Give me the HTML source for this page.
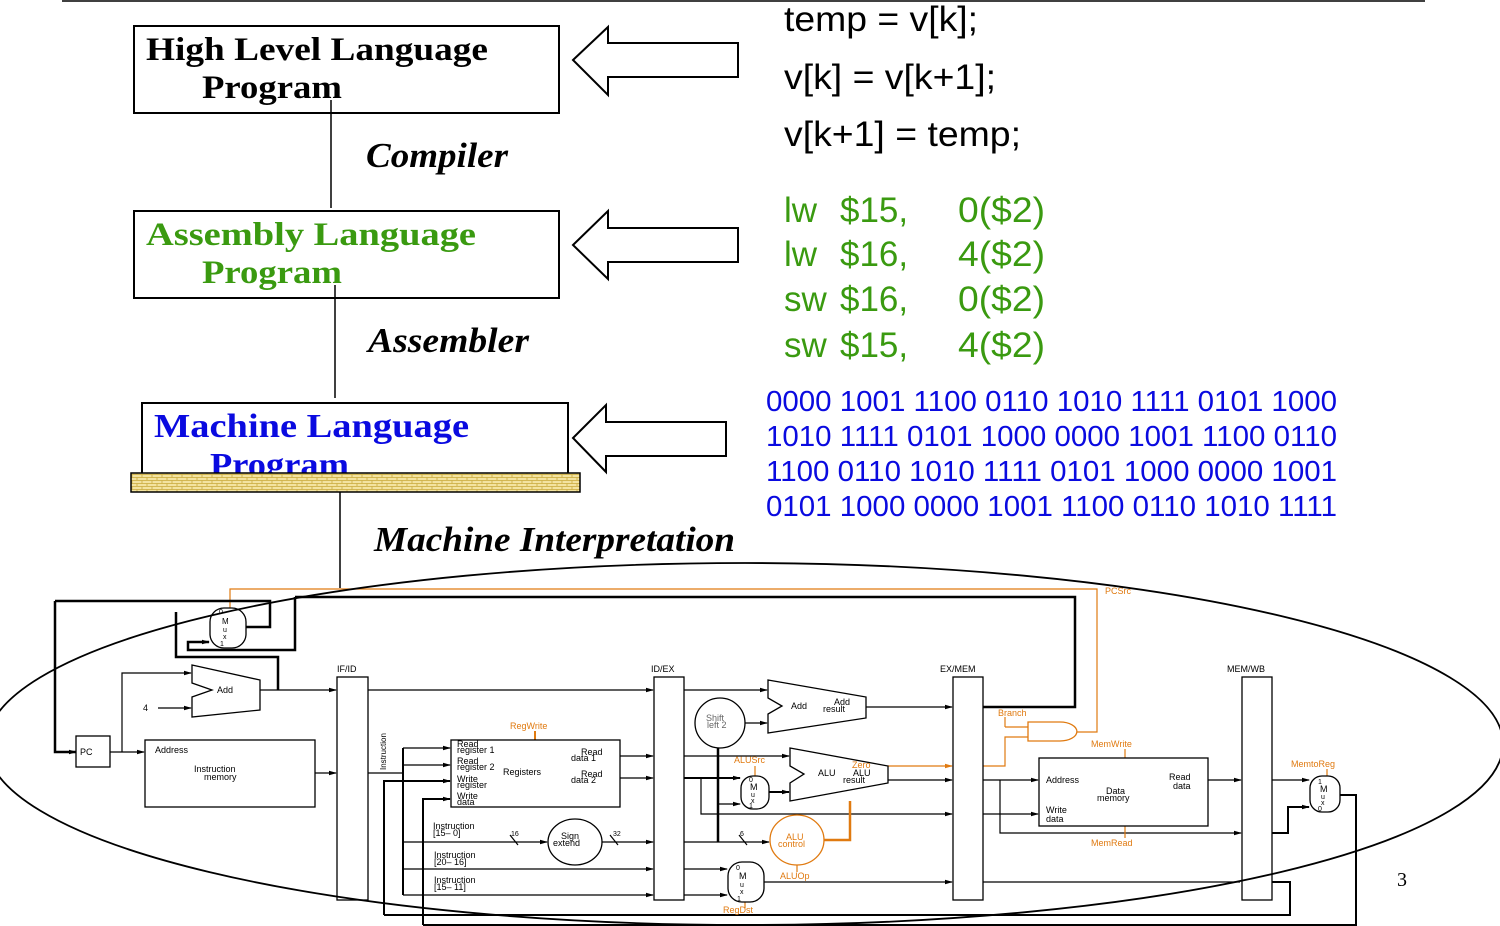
<!DOCTYPE html>
<html><head><meta charset="utf-8"><style>
html,body{margin:0;padding:0;background:#fff;width:1500px;height:926px;overflow:hidden}
svg{display:block}
.s{font-family:"Liberation Serif",serif;font-weight:bold}
.a{font-family:"Liberation Sans",sans-serif}
.d{font-family:"Liberation Sans",sans-serif;font-size:9px}
.o{fill:#e07a10}
</style></head><body>
<svg width="1500" height="926" viewBox="0 0 1500 926" xmlns="http://www.w3.org/2000/svg">
<defs>
<pattern id="br" width="10" height="6" patternUnits="userSpaceOnUse">
<rect width="10" height="6" fill="#f3e3a0"/>
<path d="M0 0.5H10M0 3.5H10M2 0.5V3.5M7 3.5V6" stroke="#c9a93a" stroke-width="0.8" fill="none"/>
</pattern>
<marker id="ar" markerUnits="userSpaceOnUse" markerWidth="8" markerHeight="6" refX="7" refY="3" orient="auto"><path d="M0,0.8 L8,3 L0,5.2z" fill="#000"/></marker>
<marker id="ao" markerUnits="userSpaceOnUse" markerWidth="8" markerHeight="6" refX="7" refY="3" orient="auto"><path d="M0,0.8 L8,3 L0,5.2z" fill="#e07a10"/></marker>
</defs>
<line x1="62" y1="1" x2="1425" y2="1" stroke="#000" stroke-width="1.5"/>

<rect x="134" y="26" width="425" height="87" fill="#fff" stroke="#000" stroke-width="2"/>
<text class="s" x="146" y="60" font-size="33" textLength="342" lengthAdjust="spacingAndGlyphs">High Level Language</text>
<text class="s" x="202" y="98" font-size="33" textLength="140" lengthAdjust="spacingAndGlyphs">Program</text>
<path d="M573 60 L608 27 L608 43 L738 43 L738 77 L608 77 L608 95 Z" fill="#fff" stroke="#000" stroke-width="2"/>
<line x1="331" y1="100" x2="331" y2="208" stroke="#000" stroke-width="1.5"/>
<text class="s" x="366" y="167" font-size="35" font-style="italic" textLength="142" lengthAdjust="spacingAndGlyphs">Compiler</text>

<rect x="134" y="211" width="425" height="87" fill="#fff" stroke="#000" stroke-width="2"/>
<text class="s" x="146" y="245" font-size="33" fill="#3a9a10" textLength="330" lengthAdjust="spacingAndGlyphs">Assembly  Language</text>
<text class="s" x="202" y="283" font-size="33" fill="#3a9a10" textLength="140" lengthAdjust="spacingAndGlyphs">Program</text>
<path d="M573 245 L608 211 L608 228 L738 228 L738 262 L608 262 L608 279 Z" fill="#fff" stroke="#000" stroke-width="2"/>
<line x1="335" y1="285" x2="335" y2="398" stroke="#000" stroke-width="1.5"/>
<text class="s" x="368" y="352" font-size="35" font-style="italic" textLength="161" lengthAdjust="spacingAndGlyphs">Assembler</text>

<rect x="142" y="403" width="426" height="72" fill="#fff" stroke="#000" stroke-width="2"/>
<text class="s" x="154" y="437" font-size="34" fill="#0a0ae0" textLength="315" lengthAdjust="spacingAndGlyphs">Machine  Language</text>
<text class="s" x="210" y="476" font-size="34" fill="#0a0ae0" textLength="139" lengthAdjust="spacingAndGlyphs">Program</text>
<rect x="131" y="473" width="449" height="19" fill="url(#br)" stroke="#000" stroke-width="1.5"/>
<path d="M573 438 L606 405 L606 422 L726 422 L726 456 L606 456 L606 472 Z" fill="#fff" stroke="#000" stroke-width="2"/>
<line x1="340" y1="492" x2="340" y2="588" stroke="#000" stroke-width="1.5"/>
<text class="s" x="374" y="551" font-size="35" font-style="italic" textLength="361" lengthAdjust="spacingAndGlyphs">Machine Interpretation</text>

<g class="a" font-size="35">
<text x="784" y="31" textLength="194" lengthAdjust="spacingAndGlyphs">temp = v[k];</text>
<text x="784" y="89" textLength="212" lengthAdjust="spacingAndGlyphs">v[k] = v[k+1];</text>
<text x="784" y="146" textLength="237" lengthAdjust="spacingAndGlyphs">v[k+1] = temp;</text>
<g fill="#3a9a10">
<text x="784" y="222">lw</text><text x="840" y="222">$15,</text><text x="958" y="222" textLength="87" lengthAdjust="spacingAndGlyphs">0($2)</text>
<text x="784" y="266">lw</text><text x="840" y="266">$16,</text><text x="958" y="266" textLength="87" lengthAdjust="spacingAndGlyphs">4($2)</text>
<text x="784" y="311">sw</text><text x="840" y="311">$16,</text><text x="958" y="311" textLength="87" lengthAdjust="spacingAndGlyphs">0($2)</text>
<text x="784" y="357">sw</text><text x="840" y="357">$15,</text><text x="958" y="357" textLength="87" lengthAdjust="spacingAndGlyphs">4($2)</text>
</g>
</g>
<g class="a" font-size="28.5" fill="#0a0ae0">
<text x="766" y="411" textLength="571" lengthAdjust="spacingAndGlyphs">0000 1001 1100 0110 1010 1111 0101 1000</text>
<text x="766" y="446" textLength="571" lengthAdjust="spacingAndGlyphs">1010 1111 0101 1000 0000 1001 1100 0110</text>
<text x="766" y="481" textLength="571" lengthAdjust="spacingAndGlyphs">1100 0110 1010 1111 0101 1000 0000 1001</text>
<text x="766" y="516" textLength="571" lengthAdjust="spacingAndGlyphs">0101 1000 0000 1001 1100 0110 1010 1111</text>
</g>

<g fill="none" stroke="#000" stroke-width="1.2">
<path d="M230 608 V589 H1097 V732 H1076" stroke="#e07a10"/>
<path d="M55 601 H270 V627 H246" stroke-width="2.5"/>
<path d="M55 601 V752 H76" stroke-width="2.5" marker-end="url(#ar)"/>
<path d="M295 597 H1075 V707 H983" stroke-width="2.5"/>
<path d="M295 597 V650 H188 V642 H209" stroke-width="2.5" marker-end="url(#ar)"/>
<path d="M176 612 V657 H278 V690" stroke-width="2.5"/>
<path d="M110 752 H144" marker-end="url(#ar)"/>
<path d="M122 752 V673 H191" marker-end="url(#ar)"/>
<path d="M158 708 H191" marker-end="url(#ar)"/>
<path d="M260 690 H336" marker-end="url(#ar)"/>
<path d="M368 690 H653" marker-end="url(#ar)"/>
<path d="M315 773 H336" marker-end="url(#ar)"/>
<path d="M368 773 H403"/>
<path d="M403 748 V895" stroke-width="2"/>
<path d="M403 748 H450" marker-end="url(#ar)"/>
<path d="M403 765 H450" marker-end="url(#ar)"/>
<path d="M403 842 H547" marker-end="url(#ar)"/>
<path d="M602 842 H653" marker-end="url(#ar)"/>
<path d="M403 869 H653" marker-end="url(#ar)"/>
<path d="M403 895 H653" marker-end="url(#ar)"/>
<path d="M384 915 V781 H450" stroke-width="2" marker-end="url(#ar)"/>
<path d="M423 925 V799 H450" stroke-width="2" marker-end="url(#ar)"/>
<path d="M620 756 H653" marker-end="url(#ar)"/>
<path d="M620 778 H653" marker-end="url(#ar)"/>
<path d="M684 690 H767" marker-end="url(#ar)"/>
<path d="M745 723 H767" marker-end="url(#ar)"/>
<path d="M866 707 H952" marker-end="url(#ar)"/>
<path d="M684 756 H789" marker-end="url(#ar)"/>
<path d="M684 778 H740" stroke-width="2" marker-end="url(#ar)"/>
<path d="M769 792 H789" stroke-width="2" marker-end="url(#ar)"/>
<path d="M701 778 V814 H952" marker-end="url(#ar)"/>
<path d="M718 747 V842" stroke-width="2.5"/>
<path d="M718 804 H740" marker-end="url(#ar)"/>
<path d="M684 842 H769" marker-end="url(#ar)"/>
<path d="M888 780 H952" marker-end="url(#ar)"/>
<path d="M888 766 H952" stroke="#e07a10" marker-end="url(#ao)"/>
<path d="M824 840 H850 V801" stroke="#e07a10" stroke-width="2.5"/>
<path d="M684 869 H727" marker-end="url(#ar)"/>
<path d="M684 895 H727" marker-end="url(#ar)"/>
<path d="M764 882 H952" marker-end="url(#ar)"/>
<path d="M983 766 H1005 V737 H1028" stroke="#e07a10"/>
<path d="M1005 727 V717" stroke="#e07a10"/>
<path d="M1005 727 H1028" stroke="#e07a10"/>
<path d="M983 780 H1038" marker-end="url(#ar)"/>
<path d="M1000 780 V833 H1241" marker-end="url(#ar)"/>
<path d="M983 814 H1038" marker-end="url(#ar)"/>
<path d="M1208 780 H1241" marker-end="url(#ar)"/>
<path d="M983 882 H1240"/>
<path d="M1272 780 H1309" marker-end="url(#ar)"/>
<path d="M1272 833 H1288 V807 H1309" stroke-width="2" marker-end="url(#ar)"/>
<path d="M1340 795 H1356 V925 H423" stroke-width="2"/>
<path d="M1272 882 H1290 V915 H384" stroke-width="2"/>
<path d="M535 731 V740" stroke="#e07a10" stroke-width="2"/>
<path d="M755 766 V776" stroke="#e07a10"/>
<path d="M797 865 V872" stroke="#e07a10"/>
<path d="M745 902 V908" stroke="#e07a10"/>
<path d="M1125 749 V758" stroke="#e07a10"/>
<path d="M1125 826 V838" stroke="#e07a10"/>
<path d="M1327 769 V776" stroke="#e07a10"/>
<path d="M510 835 L518 845 M610 835 L618 845 M739 835 L747 845"/>
</g>
<g fill="#fff" stroke="#000" stroke-width="1.3">
<rect x="76" y="736" width="34" height="31"/>
<rect x="145" y="740" width="170" height="67"/>
<rect x="337" y="677" width="31" height="223"/>
<rect x="654" y="677" width="30" height="223"/>
<rect x="953" y="677" width="30" height="223"/>
<rect x="1242" y="677" width="30" height="223"/>
<rect x="451" y="740" width="169" height="67"/>
<rect x="1039" y="758" width="169" height="68"/>
<path d="M192 665 L260 680 L260 710 L192 717 L192 697 L212 690 L192 683 Z"/>
<path d="M768 680 L866 697 L866 718 L768 733 L768 714 L782 706 L768 698 Z"/>
<path d="M790 748 L888 766 L888 783 L790 801 L790 783 L804 774 L790 766 Z"/>
<rect x="210" y="608" width="36" height="40" rx="14"/>
<rect x="741" y="776" width="28" height="33" rx="12"/>
<rect x="728" y="862" width="36" height="40" rx="14"/>
<rect x="1310" y="776" width="30" height="36" rx="12"/>
<ellipse cx="575" cy="842" rx="27" ry="23"/>
<circle cx="720" cy="723" r="25"/>
<ellipse cx="797" cy="840" rx="27" ry="25" stroke="#e07a10"/>
<path d="M1028 722 H1060 A16 9 0 0 1 1060 741 H1028 Z" stroke="#e07a10"/>
</g>
<g class="d">
<text x="80" y="755">PC</text>
<text x="155" y="753">Address</text>
<text x="194" y="772">Instruction</text><text x="204" y="780">memory</text>
<text x="143" y="711">4</text>
<text x="217" y="693">Add</text>
<text x="219" y="614" font-size="7">0</text><text x="222" y="624" font-size="8">M</text><text x="223" y="632" font-size="7">u</text><text x="223" y="639" font-size="7">x</text><text x="220" y="646" font-size="7">1</text>
<text x="337" y="672">IF/ID</text><text x="651" y="672">ID/EX</text><text x="940" y="672">EX/MEM</text><text x="1227" y="672">MEM/WB</text>
<text x="457" y="747">Read</text><text x="457" y="753">register 1</text>
<text x="457" y="764">Read</text><text x="457" y="770">register 2</text>
<text x="457" y="782">Write</text><text x="457" y="788">register</text>
<text x="457" y="799">Write</text><text x="457" y="805">data</text>
<text x="503" y="775">Registers</text>
<text x="581" y="755">Read</text><text x="571" y="761">data 1</text>
<text x="581" y="777">Read</text><text x="571" y="783">data 2</text>
<text class="o" x="510" y="729">RegWrite</text>
<text x="386" y="770" transform="rotate(-90 386 770)" font-size="8">Instruction</text>
<text x="433" y="829">Instruction</text><text x="433" y="836">[15– 0]</text>
<text x="434" y="858">Instruction</text><text x="434" y="865">[20– 16]</text>
<text x="434" y="883">Instruction</text><text x="434" y="890">[15– 11]</text>
<text x="511" y="836" font-size="7">16</text><text x="613" y="836" font-size="7">32</text><text x="740" y="836" font-size="7">6</text>
<text x="561" y="839">Sign</text><text x="553" y="846">extend</text>
<text x="706" y="721" fill="#666">Shift</text><text x="707" y="728" fill="#666">left 2</text>
<text x="791" y="709">Add</text><text x="834" y="705">Add</text><text x="823" y="712">result</text>
<text x="818" y="776">ALU</text><text x="853" y="776">ALU</text><text x="843" y="783">result</text>
<text class="o" x="852" y="768">Zero</text>
<text class="o" x="734" y="763">ALUSrc</text>
<text x="749" y="782" font-size="7">0</text><text x="750" y="790">M</text><text x="751" y="797" font-size="7">u</text><text x="751" y="803" font-size="7">x</text><text x="749" y="808" font-size="7">1</text>
<text class="o" x="786" y="840">ALU</text><text class="o" x="778" y="847">control</text>
<text class="o" x="780" y="879">ALUOp</text>
<text x="736" y="870" font-size="7">0</text><text x="739" y="879">M</text><text x="740" y="887" font-size="7">u</text><text x="740" y="894" font-size="7">x</text><text x="737" y="901" font-size="7">1</text>
<text class="o" x="723" y="913">RegDst</text>
<text class="o" x="998" y="716">Branch</text>
<text class="o" x="1105" y="594">PCSrc</text>
<text class="o" x="1091" y="747">MemWrite</text>
<text class="o" x="1091" y="846">MemRead</text>
<text x="1046" y="783">Address</text>
<text x="1106" y="794">Data</text><text x="1097" y="801">memory</text>
<text x="1169" y="780">Read</text><text x="1173" y="789">data</text>
<text x="1046" y="813">Write</text><text x="1046" y="822">data</text>
<text class="o" x="1291" y="767">MemtoReg</text>
<text x="1318" y="784" font-size="7">1</text><text x="1320" y="792">M</text><text x="1321" y="799" font-size="7">u</text><text x="1321" y="805" font-size="7">x</text><text x="1318" y="811" font-size="7">0</text>
</g>
<ellipse cx="745" cy="744" rx="758" ry="181" fill="none" stroke="#000" stroke-width="1.8"/>
<text x="1397" y="886" font-family="Liberation Serif,serif" font-size="20">3</text>
</svg>
</body></html>
